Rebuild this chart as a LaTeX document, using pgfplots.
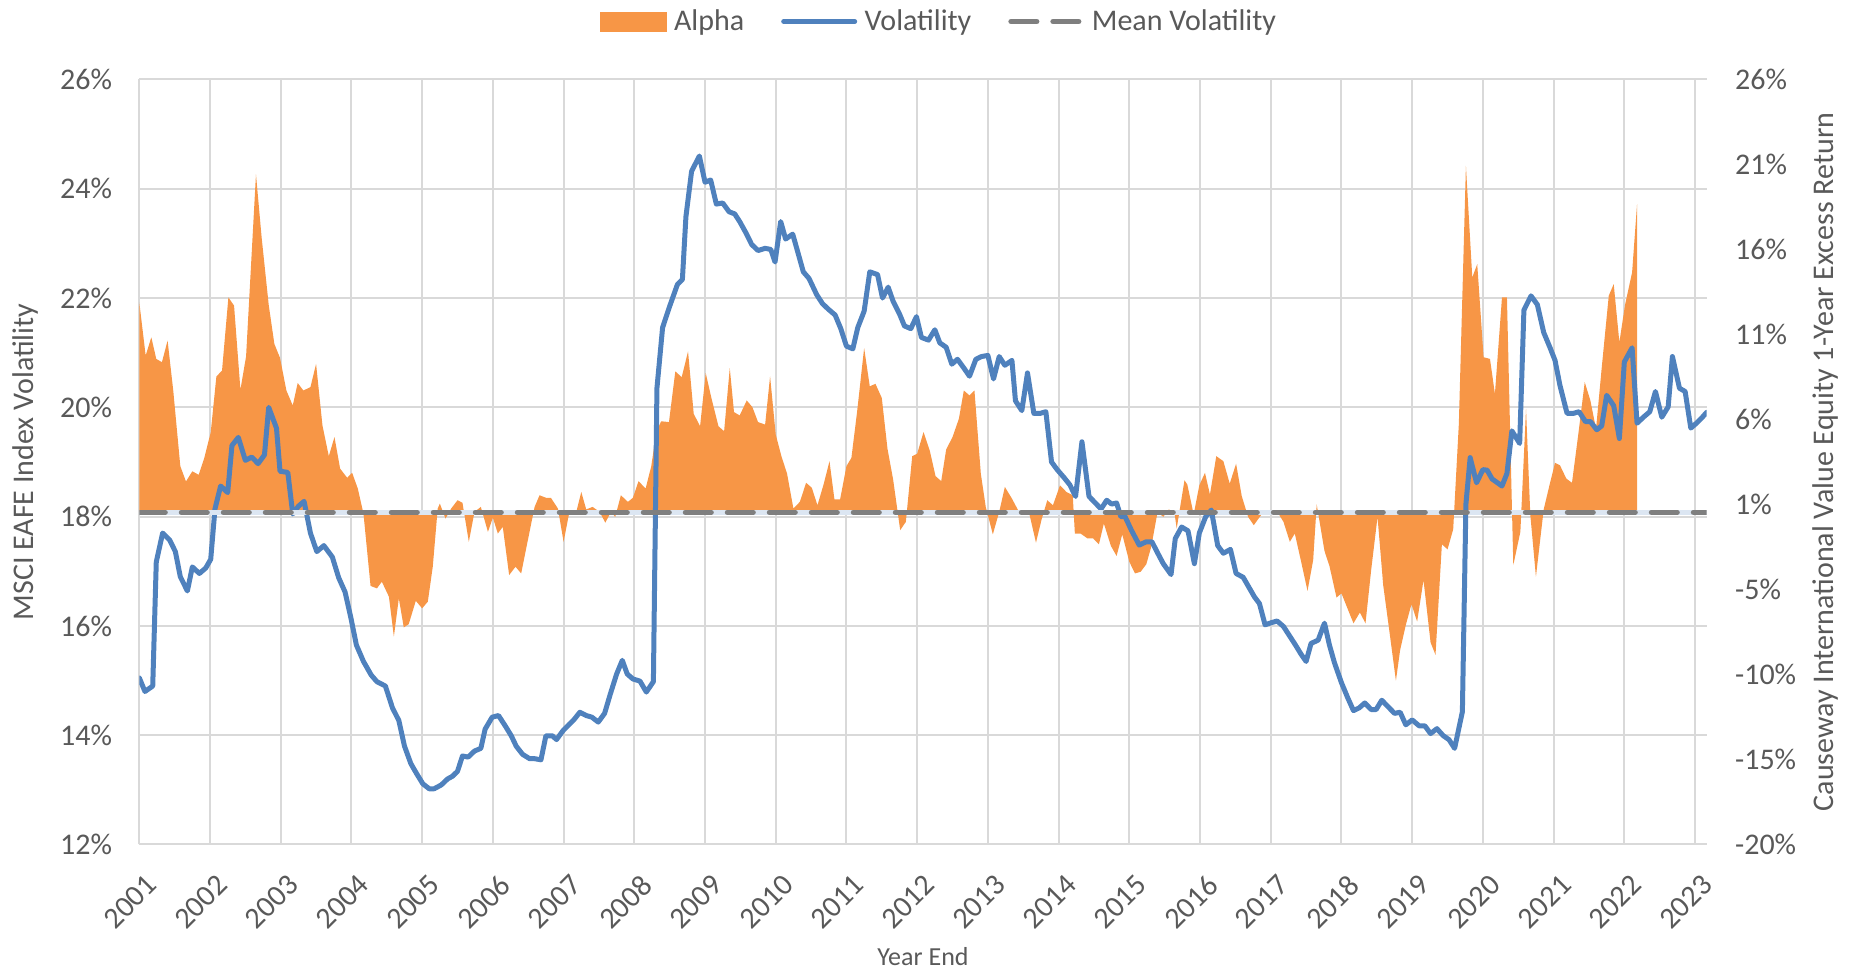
\documentclass[border=0pt]{standalone}
\usepackage{pgfplots}
\usepackage{pgfplotstable}
\pgfplotsset{compat=1.18}
\usepackage{fontspec}
\setmainfont{Carlito}
\definecolor{orng}{HTML}{F79646}
\definecolor{blu}{HTML}{4F81BD}
\definecolor{gridg}{HTML}{D9D9D9}
\definecolor{txtg}{HTML}{595959}
\definecolor{meang}{HTML}{7F7F7F}
\definecolor{halo}{HTML}{DCE6F2}

\pgfplotstableread{
x y
2001.00 15.05
2001.08 14.80
2001.19 14.90
2001.24 17.17
2001.33 17.70
2001.43 17.57
2001.51 17.36
2001.58 16.90
2001.68 16.64
2001.75 17.08
2001.85 16.96
2001.94 17.06
2002.01 17.22
2002.07 18.14
2002.15 18.56
2002.25 18.44
2002.31 19.30
2002.40 19.45
2002.50 19.03
2002.59 19.09
2002.68 18.97
2002.77 19.13
2002.83 20.00
2002.94 19.62
2002.99 18.83
2003.10 18.81
2003.17 18.05
2003.25 18.19
2003.33 18.28
2003.42 17.70
2003.51 17.36
2003.61 17.47
2003.73 17.26
2003.82 16.88
2003.91 16.62
2003.99 16.16
2004.07 15.65
2004.17 15.35
2004.28 15.10
2004.36 14.98
2004.48 14.90
2004.58 14.50
2004.67 14.27
2004.75 13.80
2004.84 13.48
2004.92 13.30
2005.01 13.11
2005.10 13.02
2005.17 13.02
2005.27 13.09
2005.36 13.20
2005.43 13.25
2005.50 13.34
2005.57 13.62
2005.65 13.60
2005.74 13.71
2005.83 13.76
2005.89 14.11
2005.99 14.33
2006.08 14.36
2006.18 14.16
2006.26 13.99
2006.33 13.80
2006.42 13.65
2006.52 13.57
2006.59 13.57
2006.68 13.55
2006.75 13.99
2006.84 13.99
2006.90 13.92
2006.99 14.08
2007.08 14.20
2007.15 14.29
2007.23 14.42
2007.32 14.36
2007.40 14.33
2007.49 14.24
2007.58 14.40
2007.66 14.75
2007.75 15.12
2007.83 15.37
2007.90 15.12
2007.98 15.03
2008.08 14.99
2008.17 14.79
2008.27 14.98
2008.32 20.35
2008.40 21.46
2008.50 21.85
2008.61 22.25
2008.68 22.34
2008.73 23.49
2008.81 24.32
2008.92 24.60
2009.00 24.12
2009.08 24.16
2009.16 23.72
2009.25 23.74
2009.34 23.58
2009.42 23.54
2009.49 23.40
2009.58 23.19
2009.66 22.98
2009.75 22.87
2009.85 22.91
2009.93 22.89
2009.99 22.66
2010.07 23.40
2010.14 23.08
2010.24 23.17
2010.31 22.85
2010.39 22.48
2010.47 22.36
2010.58 22.06
2010.66 21.90
2010.74 21.80
2010.84 21.69
2010.92 21.44
2011.00 21.12
2011.09 21.07
2011.16 21.46
2011.25 21.76
2011.33 22.48
2011.44 22.43
2011.51 22.00
2011.59 22.20
2011.66 21.94
2011.75 21.71
2011.82 21.49
2011.91 21.44
2011.99 21.66
2012.06 21.28
2012.16 21.23
2012.25 21.42
2012.32 21.18
2012.41 21.10
2012.49 20.79
2012.57 20.88
2012.66 20.72
2012.74 20.57
2012.83 20.88
2012.91 20.93
2013.00 20.95
2013.08 20.52
2013.16 20.93
2013.24 20.77
2013.34 20.86
2013.39 20.12
2013.48 19.94
2013.56 20.63
2013.65 19.89
2013.74 19.89
2013.82 19.92
2013.90 19.00
2013.98 18.86
2014.08 18.71
2014.16 18.58
2014.24 18.37
2014.33 19.37
2014.43 18.37
2014.52 18.25
2014.60 18.14
2014.68 18.30
2014.75 18.23
2014.82 18.25
2014.88 18.00
2014.94 18.00
2015.03 17.75
2015.14 17.48
2015.24 17.54
2015.32 17.54
2015.39 17.36
2015.48 17.14
2015.59 16.94
2015.65 17.60
2015.74 17.81
2015.83 17.74
2015.92 17.14
2015.99 17.70
2016.08 18.00
2016.16 18.12
2016.25 17.47
2016.33 17.33
2016.43 17.40
2016.51 16.96
2016.61 16.89
2016.69 16.71
2016.77 16.53
2016.84 16.41
2016.92 16.02
2017.01 16.06
2017.09 16.09
2017.18 15.99
2017.27 15.81
2017.35 15.65
2017.43 15.48
2017.50 15.35
2017.57 15.68
2017.67 15.74
2017.76 16.05
2017.83 15.65
2017.90 15.33
2018.00 14.96
2018.09 14.68
2018.17 14.45
2018.25 14.50
2018.33 14.59
2018.42 14.47
2018.49 14.47
2018.57 14.64
2018.66 14.52
2018.75 14.40
2018.83 14.42
2018.91 14.19
2019.00 14.28
2019.10 14.17
2019.18 14.17
2019.26 14.03
2019.35 14.12
2019.44 13.99
2019.52 13.92
2019.60 13.76
2019.71 14.43
2019.76 18.23
2019.82 19.08
2019.91 18.62
2020.00 18.86
2020.06 18.85
2020.13 18.69
2020.27 18.56
2020.34 18.79
2020.41 19.57
2020.52 19.34
2020.58 21.78
2020.68 22.04
2020.77 21.88
2020.86 21.37
2020.95 21.09
2021.02 20.86
2021.09 20.40
2021.19 19.89
2021.28 19.89
2021.36 19.92
2021.45 19.74
2021.52 19.74
2021.61 19.59
2021.68 19.66
2021.75 20.22
2021.85 20.03
2021.93 19.43
2022.00 20.83
2022.11 21.09
2022.18 19.71
2022.27 19.82
2022.36 19.92
2022.44 20.29
2022.53 19.82
2022.62 20.01
2022.68 20.93
2022.78 20.35
2022.86 20.29
2022.94 19.62
2023.02 19.71
2023.09 19.80
2023.165 19.91
}\voltable

\pgfplotstableread{
x y
2001.00 0
2001.00 12.6
2001.09 9.4
2001.17 10.5
2001.24 9.2
2001.32 9.0
2001.40 10.3
2001.48 7.3
2001.58 2.75
2001.66 1.83
2001.75 2.44
2001.84 2.23
2001.92 3.26
2002.01 4.78
2002.09 8.14
2002.17 8.5
2002.26 12.9
2002.34 12.4
2002.43 7.35
2002.51 9.35
2002.65 20.3
2002.73 16.5
2002.83 12.45
2002.91 10.1
2002.99 9.26
2003.08 7.3
2003.17 6.4
2003.24 7.75
2003.32 7.3
2003.42 7.5
2003.50 8.9
2003.59 5.2
2003.68 3.35
2003.76 4.5
2003.84 2.6
2003.94 2.05
2004.01 2.35
2004.09 1.4
2004.17 -0.1
2004.27 -4.45
2004.36 -4.6
2004.43 -4.2
2004.53 -5.1
2004.60 -7.5
2004.67 -5.2
2004.74 -6.95
2004.81 -6.75
2004.91 -5.35
2005.00 -5.8
2005.08 -5.4
2005.15 -3.3
2005.22 0.2
2005.25 0.5
2005.33 -0.4
2005.41 0.2
2005.50 0.7
2005.57 0.55
2005.66 -1.8
2005.74 0.0
2005.83 0.3
2005.93 -1.2
2006.00 -0.35
2006.07 -1.3
2006.14 -0.9
2006.23 -3.8
2006.32 -3.3
2006.40 -3.7
2006.49 -1.8
2006.59 0.3
2006.66 1.0
2006.75 0.85
2006.82 0.85
2006.92 0.2
2007.00 -1.8
2007.08 -0.05
2007.18 0.0
2007.25 1.2
2007.32 0.15
2007.41 0.3
2007.51 0.0
2007.59 -0.65
2007.67 0.0
2007.73 -0.3
2007.81 1.0
2007.91 0.6
2007.98 0.85
2008.06 1.85
2008.16 1.4
2008.24 2.75
2008.31 4.8
2008.38 5.45
2008.49 5.4
2008.58 8.45
2008.67 8.1
2008.76 9.65
2008.84 5.9
2008.93 5.15
2009.01 8.35
2009.09 6.85
2009.19 5.15
2009.27 4.85
2009.35 8.65
2009.41 6.0
2009.49 5.8
2009.59 6.7
2009.67 6.3
2009.75 5.4
2009.85 5.25
2009.92 8.15
2010.00 4.65
2010.08 3.35
2010.16 2.3
2010.25 0.2
2010.34 0.6
2010.43 1.75
2010.51 1.45
2010.59 0.4
2010.68 1.7
2010.76 3.05
2010.83 0.75
2010.91 0.75
2011.00 2.75
2011.07 3.25
2011.15 6.0
2011.25 9.85
2011.33 7.55
2011.41 7.7
2011.50 6.85
2011.58 3.8
2011.66 1.95
2011.76 -1.1
2011.84 -0.6
2011.93 3.35
2012.00 3.5
2012.09 4.8
2012.18 3.65
2012.26 2.15
2012.34 1.85
2012.41 3.75
2012.50 4.5
2012.59 5.6
2012.66 7.3
2012.74 7.0
2012.81 7.3
2012.90 2.3
2012.97 0.3
2013.07 -1.35
2013.16 0.0
2013.24 1.5
2013.34 0.8
2013.44 0.0
2013.58 0.0
2013.68 -1.85
2013.76 -0.45
2013.84 0.7
2013.92 0.4
2014.02 1.6
2014.11 1.2
2014.20 1.0
2014.23 -1.3
2014.31 -1.3
2014.41 -1.6
2014.49 -1.6
2014.57 -1.95
2014.64 -0.7
2014.74 -2.05
2014.82 -2.65
2014.90 -1.35
2015.00 -3.0
2015.08 -3.7
2015.16 -3.6
2015.24 -3.15
2015.31 -2.1
2015.40 0.0
2015.48 -0.3
2015.56 0.15
2015.64 -0.1
2015.67 -1.0
2015.78 1.9
2015.82 1.65
2015.91 -0.15
2015.99 1.6
2016.07 2.35
2016.14 1.05
2016.23 3.35
2016.33 3.05
2016.42 1.7
2016.51 2.9
2016.59 0.95
2016.68 -0.3
2016.76 -0.8
2016.87 -0.15
2016.98 0.0
2017.03 -0.2
2017.08 0.1
2017.18 -0.6
2017.27 -1.8
2017.34 -1.3
2017.43 -3.0
2017.52 -4.75
2017.60 -2.9
2017.65 0.45
2017.76 -2.35
2017.83 -3.25
2017.93 -5.15
2018.00 -4.9
2018.08 -5.75
2018.17 -6.7
2018.26 -6.05
2018.34 -6.7
2018.42 -3.5
2018.51 -0.3
2018.59 -4.4
2018.68 -7.25
2018.77 -10.15
2018.83 -8.3
2018.91 -6.8
2018.99 -5.55
2019.07 -6.6
2019.16 -4.1
2019.26 -7.85
2019.33 -8.6
2019.42 -1.95
2019.50 -2.25
2019.58 -1.05
2019.66 5.3
2019.76 20.8
2019.85 14.1
2019.92 14.9
2020.01 9.3
2020.10 9.2
2020.17 7.1
2020.27 12.9
2020.34 12.9
2020.43 -3.2
2020.53 -1.2
2020.61 6.2
2020.67 -0.15
2020.75 -3.9
2020.86 0.15
2020.93 1.4
2021.02 2.95
2021.09 2.8
2021.18 2.0
2021.26 1.75
2021.35 4.7
2021.44 7.8
2021.52 6.7
2021.60 5.0
2021.68 8.65
2021.78 13.0
2021.85 13.7
2021.93 10.2
2022.01 12.45
2022.11 14.4
2022.18 18.5
2022.18 0
}\alphatable

\pgfplotsset{
  base/.style={at={(0,0)}, anchor=south west, scale only axis,
    width=783.7pt, height=382.5pt, xmin=2001, xmax=2023.165},
  tickfont/.style={font=\fontsize{15}{18}\selectfont, text=txtg},
}

\begin{document}
\begin{tikzpicture}
\useasboundingbox (-69.65pt,-62.25pt) rectangle (856.85pt,422.25pt);

% Axis 1: grid, x ticks, left axis
\begin{axis}[base, ymin=12, ymax=26,
  ytick={12,14,16,18,20,22,24,26},
  yticklabels={12\%,14\%,16\%,18\%,20\%,22\%,24\%,26\%},
  xtick={2001,2002,2003,2004,2005,2006,2007,2008,2009,2010,2011,2012,2013,2014,2015,2016,2017,2018,2019,2020,2021,2022,2023},
  xticklabels={2001,2002,2003,2004,2005,2006,2007,2008,2009,2010,2011,2012,2013,2014,2015,2016,2017,2018,2019,2020,2021,2022,2023},
  grid=major, major grid style={draw=gridg, line width=1pt},
  axis line style={draw=none}, tick style={draw=none}, major tick length=0pt,
  yticklabel style={tickfont, anchor=east, inner sep=0pt, xshift=-13.4pt},
  xticklabel style={tickfont, xshift=2.7pt, yshift=-14.2pt, rotate=45, anchor=north east, inner sep=0pt},
  xlabel={Year End}, ylabel={MSCI EAFE Index Volatility},
  every axis x label/.style={at={(axis description cs:0.5,0)}, yshift=-56.25pt, anchor=center, font=\fontsize{13}{15}\selectfont, text=txtg},
  every axis y label/.style={at={(axis description cs:-0.0723,0.5)}, rotate=90, anchor=center, font=\fontsize{15}{18}\selectfont, text=txtg},
]
\addplot[draw=none, forget plot] coordinates {(2001,12)};
\end{axis}

% Axis 2: right axis, alpha area
\begin{axis}[base, ymin=-20, ymax=26,
  axis x line=none, axis y line*=right,
  axis line style={draw=none}, tick style={draw=none}, major tick length=0pt,
  ytick={-20,-14.8889,-9.7778,-4.6667,0.4444,5.5556,10.6667,15.7778,20.8889,26},
  yticklabels={-20\%,-15\%,-10\%,-5\%,1\%,6\%,11\%,16\%,21\%,26\%},
  yticklabel style={tickfont, anchor=west, inner sep=0pt, xshift=14pt},
  ylabel={Causeway International Value Equity 1-Year Excess Return},
  every axis y label/.style={at={(axis description cs:1.0761,0.5)}, rotate=90, anchor=center, font=\fontsize{15}{18}\selectfont, text=txtg},
]
\addplot[fill=orng, draw=none, forget plot] table[x=x, y=y] {\alphatable} \closedcycle;
\end{axis}

% Axis 3: volatility lines and legend
\begin{axis}[base, ymin=12, ymax=26, axis lines=none, xtick=\empty, ytick=\empty,
  legend columns=3,
  legend style={draw=none, fill=none, at={(axis description cs:0.5095,1.0758)}, anchor=center,
    nodes={inner sep=0pt, font=\fontsize{15}{18}\selectfont, text=txtg},
    /tikz/every even column/.append style={column sep=18.5pt},
    /tikz/every odd column/.append style={column sep=3.75pt}},
  legend image code/.code={\draw[#1] (0pt,0pt) -- (35.5pt,0pt);},
]
\addlegendimage{legend image code/.code={\fill[orng] (0pt,-4.75pt) rectangle (33pt,4.75pt);}}
\addlegendentry{Alpha}
\addplot[blu, line width=2.5pt, line join=round, line cap=round] table[x=x, y=y] {\voltable};
\addlegendentry{Volatility}
\addplot[halo, line width=2.5pt, forget plot] coordinates {(2001,18.08) (2023.165,18.08)};
\addplot[meang, line width=2.5pt, line cap=round, dash pattern=on 13pt off 8pt] coordinates {(2001,18.08) (2023.165,18.08)};
\addlegendentry{Mean Volatility}
\end{axis}
\end{tikzpicture}
\end{document}
